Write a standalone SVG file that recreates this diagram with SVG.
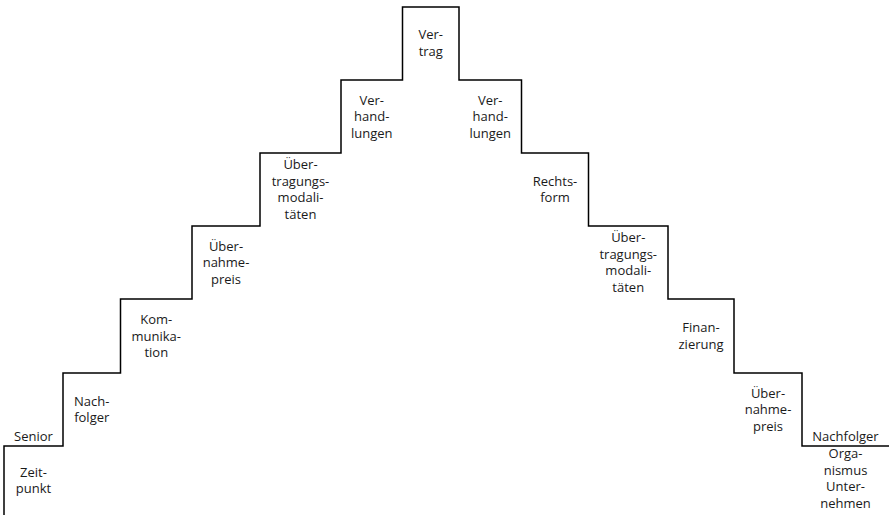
<svg xmlns="http://www.w3.org/2000/svg" width="889" height="515" viewBox="0 0 889 515">
<style>
  .lbl { font-family: "Open Sans", "Liberation Sans", sans-serif; font-size: 13px; fill: #1a1a1a; text-anchor: middle; }
  .step { fill: none; stroke: #000; stroke-width: 1.5; stroke-linejoin: miter; }
</style>
<rect width="889" height="515" fill="#fff"/>
<g id="connectors">
  <path class="step" d="M4,515 V446 H63 V373 H120.5 V299 H192 V226 H260 V153 H341 V80 H402.5 V7 H459 V80 H521.5 V153 H588.5 V226 H668 V299 H734 V373 H802 V446 H889"/>
</g>
<g id="senior"><text class="lbl" x="33.5" y="441">Senior</text></g>
<g id="zeitpunkt"><text class="lbl" x="33.5" y="476.75"><tspan x="33.5">Zeit-</tspan><tspan x="33.5" dy="16.5">punkt</tspan></text></g>
<g id="nachfolger-links"><text class="lbl" x="91.75" y="405.75"><tspan x="91.75">Nach-</tspan><tspan x="91.75" dy="16.5">folger</tspan></text></g>
<g id="kommunikation"><text class="lbl" x="156.25" y="324"><tspan x="156.25">Kom-</tspan><tspan x="156.25" dy="16.5">munika-</tspan><tspan x="156.25" dy="16.5">tion</tspan></text></g>
<g id="uebernahmepreis-links"><text class="lbl" x="226" y="250.5"><tspan x="226">Über-</tspan><tspan x="226" dy="16.5">nahme-</tspan><tspan x="226" dy="16.5">preis</tspan></text></g>
<g id="uebertragungsmodalitaeten-links"><text class="lbl" x="300.5" y="169.25"><tspan x="300.5">Über-</tspan><tspan x="300.5" dy="16.5">tragungs-</tspan><tspan x="300.5" dy="16.5">modali-</tspan><tspan x="300.5" dy="16.5">täten</tspan></text></g>
<g id="verhandlungen-links"><text class="lbl" x="371.75" y="104.5"><tspan x="371.75">Ver-</tspan><tspan x="371.75" dy="16.5">hand-</tspan><tspan x="371.75" dy="16.5">lungen</tspan></text></g>
<g id="vertrag"><text class="lbl" x="430.75" y="39"><tspan x="430.75">Ver-</tspan><tspan x="430.75" dy="16.5">trag</tspan></text></g>
<g id="verhandlungen-rechts"><text class="lbl" x="490.25" y="104.5"><tspan x="490.25">Ver-</tspan><tspan x="490.25" dy="16.5">hand-</tspan><tspan x="490.25" dy="16.5">lungen</tspan></text></g>
<g id="rechtsform"><text class="lbl" x="555" y="185.5"><tspan x="555">Rechts-</tspan><tspan x="555" dy="16.5">form</tspan></text></g>
<g id="uebertragungsmodalitaeten-rechts"><text class="lbl" x="628.25" y="242.25"><tspan x="628.25">Über-</tspan><tspan x="628.25" dy="16.5">tragungs-</tspan><tspan x="628.25" dy="16.5">modali-</tspan><tspan x="628.25" dy="16.5">täten</tspan></text></g>
<g id="finanzierung"><text class="lbl" x="701" y="332.25"><tspan x="701">Finan-</tspan><tspan x="701" dy="16.5">zierung</tspan></text></g>
<g id="uebernahmepreis-rechts"><text class="lbl" x="768" y="397.5"><tspan x="768">Über-</tspan><tspan x="768" dy="16.5">nahme-</tspan><tspan x="768" dy="16.5">preis</tspan></text></g>
<g id="nachfolger-rechts"><text class="lbl" x="845.5" y="441">Nachfolger</text></g>
<g id="organismus-unternehmen"><text class="lbl" x="845.5" y="458"><tspan x="845.5">Orga-</tspan><tspan x="845.5" dy="16.5">nismus</tspan><tspan x="845.5" dy="16.5">Unter-</tspan><tspan x="845.5" dy="16.5">nehmen</tspan></text></g>
</svg>
